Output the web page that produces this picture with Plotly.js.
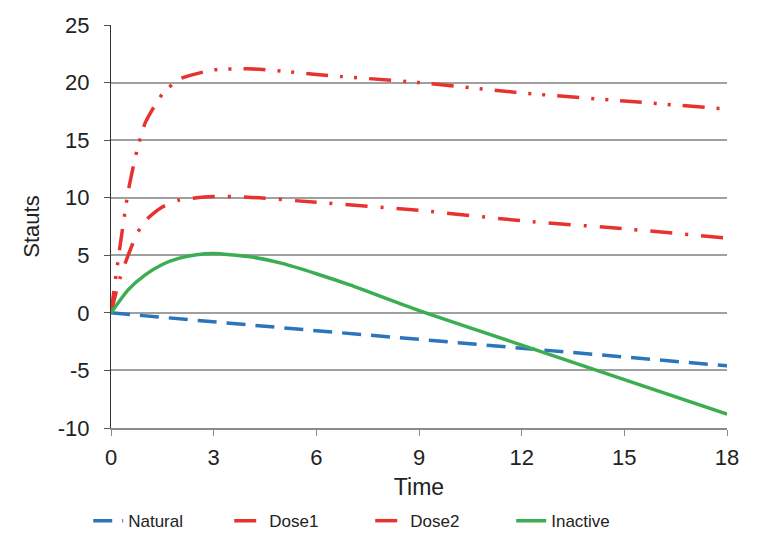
<!DOCTYPE html>
<html>
<head>
<meta charset="utf-8">
<script src="https://cdn.plot.ly/plotly-3.0.1.min.js"></script>
<style>
  html, body { margin: 0; padding: 0; background: #fff; }
  #container { width: 779px; height: 537px; }
</style>
</head>
<body>
<div id="container"></div>
<script>
// values
var naturalX = [0, 3, 6, 9, 12, 15, 18];
var naturalY = [0, -0.8, -1.55, -2.3, -3.05, -3.8, -4.6];

var dose1X = [0, 0.25, 0.5, 0.75, 1, 1.5, 2, 3, 4, 5, 6, 9, 12, 15, 18];
var dose1Y = [0, 5.5, 10.5, 14, 16.5, 19, 20.3, 21.1, 21.2, 21.0, 20.7, 20.0, 19.1, 18.4, 17.7];

var dose2X = [0, 0.25, 0.5, 0.75, 1, 1.5, 2, 3, 4, 6, 9, 12, 15, 18];
var dose2Y = [0, 2.9, 5.0, 6.8, 8.0, 9.2, 9.8, 10.1, 10.05, 9.6, 8.9, 8.0, 7.3, 6.5];

var inactiveX = [0, 0.5, 1, 1.5, 2, 2.5, 3, 4, 5, 6, 7, 9, 12, 15, 18];
var inactiveY = [0, 2.0, 3.3, 4.2, 4.75, 5.05, 5.15, 4.9, 4.3, 3.4, 2.4, 0.2, -2.8, -5.8, -8.8];

var xTicks = [0, 3, 6, 9, 12, 15, 18];
var yTicks = [-10, -5, 0, 5, 10, 15, 20, 25];

var natural = {
    x: naturalX, y: naturalY,
    mode: 'lines', type: 'scatter', name: 'Natural',
    line: {color: '#2a75bb', width: 3.5, dash: '19px,10px'}
};
var dose1 = {
    x: dose1X, y: dose1Y,
    mode: 'lines', type: 'scatter', name: 'Dose1',
    line: {color: '#e8322f', width: 3.5, shape: 'spline', smoothing: 0.6,
           dash: '22px,12px,3px,11px,3px,12px'}
};
var dose2 = {
    x: dose2X, y: dose2Y,
    mode: 'lines', type: 'scatter', name: 'Dose2',
    line: {color: '#e8322f', width: 3.5, shape: 'spline', smoothing: 0.6,
           dash: '22px,13px,3px,13px'}
};
var inactive = {
    x: inactiveX, y: inactiveY,
    mode: 'lines', type: 'scatter', name: 'Inactive',
    line: {color: '#3bae53', width: 3.5, shape: 'spline', smoothing: 0.6}
};

var data = [natural, dose1, dose2, inactive];

var layout = {
    width: 779,
    height: 537,
    margin: {l: 111, r: 52, t: 25, b: 109, autoexpand: false},
    paper_bgcolor: '#ffffff',
    plot_bgcolor: '#ffffff',
    font: {family: 'Liberation Sans, Arial, sans-serif', color: '#222', size: 22},
    showlegend: true,
    legend: {
        orientation: 'h',
        x: -0.037, xanchor: 'left',
        y: -0.231, yanchor: 'middle',
        entrywidth: 96,
        font: {size: 17, color: '#222'}
    },
    xaxis: {
        title: {text: 'Time', font: {size: 23}, standoff: 10},
        range: [0, 18],
        tickvals: xTicks,
        ticktext: xTicks.map(String),
        showgrid: false,
        zeroline: false,
        showline: true,
        linecolor: '#8c8c8c',
        linewidth: 1.5,
        ticks: 'outside',
        ticklen: 6,
        tickcolor: '#8c8c8c',
        ticklabelstandoff: 3,
        tickfont: {size: 22}
    },
    yaxis: {
        title: {text: 'Stauts', font: {size: 22}, standoff: 12},
        range: [-10, 25],
        tickvals: yTicks,
        ticktext: yTicks.map(String),
        showgrid: true,
        gridcolor: '#a0a0a0',
        gridwidth: 1.5,
        zeroline: false,
        showline: true,
        linecolor: '#333',
        linewidth: 1,
        ticks: 'outside',
        ticklen: 6,
        tickcolor: '#555',
        ticklabelstandoff: 10,
        tickfont: {size: 22}
    }
};

Plotly.newPlot('container', data, layout, {displayModeBar: false});
</script>
</body>
</html>
